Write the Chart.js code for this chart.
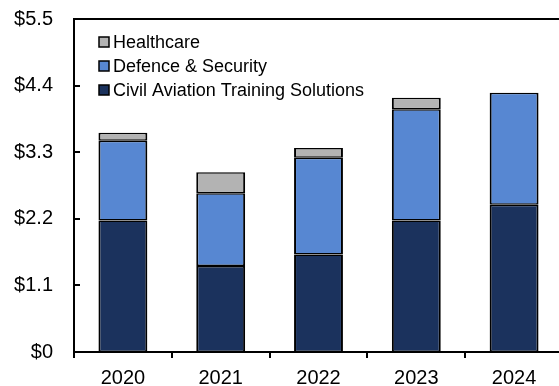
<!DOCTYPE html>
<html>
<head>
  <title>Revenue by segment</title>
  <script src="https://cdn.jsdelivr.net/npm/chart.js"></script>
  <style>
    html, body { margin: 0; padding: 0; overflow: hidden; background: #fff; }
    #wrap { width: 565px; height: 386px; }
  </style>
</head>
<body>
  <div id="wrap">
    <canvas id="segChart"></canvas>
  </div>

  <script>
    // Years and segment values (billions)
    const years = ['2020', '2021', '2022', '2023', '2024'];
    const civilAviation = [2.17, 1.42, 1.61, 2.17, 2.43];
    const defence = [1.32, 1.20, 1.60, 1.84, 1.85];
    const healthcare = [0.13, 0.35, 0.16, 0.19, null];
    const yTicks = [0, 1.1, 2.2, 3.3, 4.4, 5.5];
    const yTickLabels = ['$0', '$1.1', '$2.2', '$3.3', '$4.4', '$5.5'];

    const fontFam = "'Liberation Sans', Arial, sans-serif";

    // frame on top, inward ticks on the y axis, legend inside the plot
    const framePlugin = {
      id: 'frame',
      afterDraw(chart) {
        const ctx = chart.ctx;
        const area = chart.chartArea;
        const y = chart.scales.y;
        ctx.save();
        ctx.strokeStyle = '#000';
        ctx.lineWidth = 2;
        ctx.beginPath();
        ctx.moveTo(area.left, area.top);
        ctx.lineTo(area.right, area.top);
        ctx.lineTo(area.right, area.bottom);
        ctx.stroke();

        y.ticks.forEach((t) => {
          const py = Math.round(y.getPixelForValue(t.value));
          ctx.beginPath();
          ctx.moveTo(area.left, py);
          ctx.lineTo(area.left + 6, py);
          ctx.stroke();
        });

        // legend, last dataset first
        ctx.font = '18px ' + fontFam;
        ctx.textBaseline = 'middle';
        ctx.textAlign = 'left';
        const items = chart.data.datasets.slice().reverse();
        items.forEach((ds, i) => {
          const cy = area.top + 23 + i * 24;
          const bx = area.left + 25;
          ctx.fillStyle = ds.backgroundColor;
          ctx.fillRect(bx, cy - 5, 10, 10);
          ctx.lineWidth = 1.5;
          ctx.strokeRect(bx, cy - 5, 10, 10);
          ctx.fillStyle = '#000';
          ctx.fillText(ds.label, bx + 14, cy + 1);
        });
        ctx.restore();
      }
    };

    const ctx = document.getElementById('segChart').getContext('2d');
    const segChart = new Chart(ctx, {
      type: 'bar',
      data: {
        labels: years,
        datasets: [
          {
            label: 'Civil Aviation Training Solutions',
            data: civilAviation,
            backgroundColor: '#1b325d',
          },
          {
            label: 'Defence & Security',
            data: defence,
            backgroundColor: '#5787d2',
          },
          {
            label: 'Healthcare',
            data: healthcare,
            backgroundColor: '#b3b3b3',
          },
        ],
      },
      options: {
        responsive: true,
        maintainAspectRatio: false,
        animation: false,
        layout: { padding: { top: 19, right: 2, left: 0, bottom: 0 } },
        datasets: {
          bar: {
            borderColor: '#000',
            borderWidth: { left: 2, right: 2, top: 1.5, bottom: 1.5 },
            borderSkipped: false,
            inflateAmount: 0,
            categoryPercentage: 1,
            barPercentage: 0.5,
          },
        },
        plugins: {
          legend: { display: false },
          tooltip: { enabled: false },
        },
        scales: {
          x: {
            stacked: true,
            grid: {
              offset: true,
              drawOnChartArea: false,
              drawTicks: true,
              tickLength: 6,
              color: '#000',
              lineWidth: 2,
            },
            border: { color: '#000', width: 2 },
            ticks: {
              color: '#000',
              font: { family: fontFam, size: 20 },
              padding: 8,
              maxRotation: 0,
            },
            afterFit(scale) { scale.height = 34; },
          },
          y: {
            stacked: true,
            min: 0,
            max: 5.5,
            grid: { display: false, drawTicks: false },
            border: { color: '#000', width: 2 },
            afterBuildTicks(scale) {
              scale.ticks = yTicks.map((v) => ({ value: v }));
            },
            ticks: {
              color: '#000',
              font: { family: fontFam, size: 20 },
              padding: 21,
              callback: (value) => yTickLabels[yTicks.indexOf(value)],
            },
            afterFit(scale) {
              scale.width = 74;
              scale.paddingTop = 0;
              scale.paddingBottom = 0;
            },
          },
        },
      },
      plugins: [framePlugin],
    });
  </script>
</body>
</html>
